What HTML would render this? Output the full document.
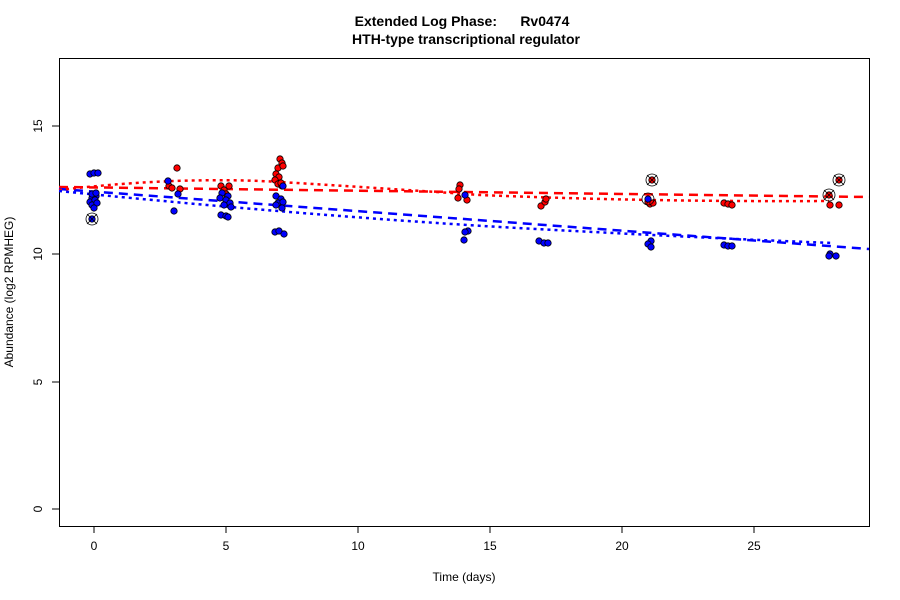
<!DOCTYPE html>
<html><head><meta charset="utf-8"><style>body{margin:0;background:#fff}svg{display:block}</style></head><body>
<svg width="900" height="600" xmlns="http://www.w3.org/2000/svg" font-family="Liberation Sans, sans-serif">
<rect width="900" height="600" fill="#fff"/>
<text x="462" y="26" font-size="14" font-weight="bold" text-anchor="middle" xml:space="preserve">Extended Log Phase:      Rv0474</text>
<text x="466" y="44" font-size="14" font-weight="bold" text-anchor="middle">HTH-type transcriptional regulator</text>
<rect x="59.5" y="58.5" width="810" height="468" fill="none" stroke="#000"/>
<g stroke="#000">
<line x1="94" y1="526" x2="94" y2="533"/><line x1="226" y1="526" x2="226" y2="533"/><line x1="358" y1="526" x2="358" y2="533"/><line x1="490" y1="526" x2="490" y2="533"/><line x1="622" y1="526" x2="622" y2="533"/><line x1="754" y1="526" x2="754" y2="533"/>
<line x1="52" y1="509" x2="59" y2="509"/><line x1="52" y1="382" x2="59" y2="382"/><line x1="52" y1="254" x2="59" y2="254"/><line x1="52" y1="126" x2="59" y2="126"/>
</g>
<g font-size="12" text-anchor="middle">
<text x="94" y="550">0</text><text x="226" y="550">5</text><text x="358" y="550">10</text><text x="490" y="550">15</text><text x="622" y="550">20</text><text x="754" y="550">25</text>
<text transform="translate(42,509) rotate(-90)">0</text><text transform="translate(42,382) rotate(-90)">5</text><text transform="translate(42,254) rotate(-90)">10</text><text transform="translate(42,126) rotate(-90)">15</text>
<text x="464" y="581">Time  (days)</text>
<text transform="translate(13,292) rotate(-90)">Abundance  (log2 RPMHEG)</text>
</g>
<g fill="none" stroke-width="2.5">
<line x1="59" y1="187" x2="869" y2="197" stroke="#f00" stroke-dasharray="9,6"/>
<line x1="59" y1="189" x2="869" y2="249" stroke="#00f" stroke-dasharray="9,6"/>
<path d="M59,190 Q180,176 280,182 Q380,188 480,195 Q650,202 829,201" stroke="#f00" stroke-dasharray="3,4"/>
<path d="M59,191 Q300,215 500,227 Q700,238 833,243" stroke="#00f" stroke-dasharray="3,4"/>
</g>
<g stroke="#000" stroke-width="0.8">
<g fill="#f00">
<circle cx="177" cy="168" r="3.2"/><circle cx="169" cy="186" r="3.2"/><circle cx="172" cy="188" r="3.2"/><circle cx="180" cy="189" r="3.2"/>
<circle cx="221" cy="186" r="3.2"/><circle cx="229" cy="186" r="3.2"/><circle cx="224" cy="190" r="3.2"/><circle cx="226" cy="194" r="3.2"/>
<circle cx="280" cy="159" r="3.2"/><circle cx="282" cy="163" r="3.2"/><circle cx="278" cy="168" r="3.2"/><circle cx="283" cy="166" r="3.2"/><circle cx="276" cy="174" r="3.2"/><circle cx="279" cy="177" r="3.2"/><circle cx="275" cy="180" r="3.2"/><circle cx="278" cy="184" r="3.2"/><circle cx="282" cy="186" r="3.2"/><circle cx="281" cy="183" r="3.2"/>
<circle cx="460" cy="185" r="3.2"/><circle cx="458" cy="198" r="3.2"/><circle cx="467" cy="200" r="3.2"/><circle cx="459" cy="189" r="3.2"/>
<circle cx="541" cy="206" r="3.2"/><circle cx="545" cy="202" r="3.2"/><circle cx="546" cy="199" r="3.2"/>
<circle cx="652" cy="180" r="3.2"/><circle cx="648" cy="202" r="3.2"/><circle cx="650" cy="204" r="3.2"/><circle cx="653" cy="203" r="3.2"/>
<circle cx="724" cy="203" r="3.2"/><circle cx="728" cy="204" r="3.2"/><circle cx="732" cy="205" r="3.2"/>
<circle cx="839" cy="180" r="3.2"/><circle cx="829" cy="195" r="3.2"/><circle cx="830" cy="205" r="3.2"/><circle cx="839" cy="205" r="3.2"/>
</g>
<g fill="#00f">
<circle cx="90" cy="174" r="3.2"/><circle cx="94" cy="173" r="3.2"/><circle cx="98" cy="173" r="3.2"/><circle cx="92" cy="198" r="3.2"/><circle cx="96" cy="196" r="3.2"/><circle cx="90" cy="202" r="3.2"/><circle cx="95" cy="200" r="3.2"/><circle cx="92" cy="205" r="3.2"/><circle cx="97" cy="203" r="3.2"/><circle cx="94" cy="208" r="3.2"/><circle cx="92" cy="194" r="3.2"/><circle cx="96" cy="193" r="3.2"/><circle cx="92" cy="219" r="3.2"/>
<circle cx="168" cy="181" r="3.2"/><circle cx="178" cy="194" r="3.2"/><circle cx="174" cy="211" r="3.2"/>
<circle cx="222" cy="193" r="3.2"/><circle cx="228" cy="196" r="3.2"/><circle cx="220" cy="198" r="3.2"/><circle cx="226" cy="200" r="3.2"/><circle cx="230" cy="203" r="3.2"/><circle cx="224" cy="205" r="3.2"/><circle cx="231" cy="207" r="3.2"/><circle cx="221" cy="215" r="3.2"/><circle cx="226" cy="216" r="3.2"/><circle cx="228" cy="217" r="3.2"/>
<circle cx="283" cy="186" r="3.2"/><circle cx="276" cy="196" r="3.2"/><circle cx="281" cy="199" r="3.2"/><circle cx="278" cy="203" r="3.2"/><circle cx="283" cy="202" r="3.2"/><circle cx="276" cy="205" r="3.2"/><circle cx="282" cy="208" r="3.2"/><circle cx="275" cy="232" r="3.2"/><circle cx="279" cy="231" r="3.2"/><circle cx="284" cy="234" r="3.2"/>
<circle cx="465" cy="195" r="3.2"/><circle cx="468" cy="231" r="3.2"/><circle cx="465" cy="232" r="3.2"/><circle cx="464" cy="240" r="3.2"/>
<circle cx="539" cy="241" r="3.2"/><circle cx="544" cy="243" r="3.2"/><circle cx="548" cy="243" r="3.2"/>
<circle cx="648" cy="199" r="3.2"/><circle cx="651" cy="241" r="3.2"/><circle cx="648" cy="244" r="3.2"/><circle cx="651" cy="247" r="3.2"/>
<circle cx="724" cy="245" r="3.2"/><circle cx="728" cy="246" r="3.2"/><circle cx="732" cy="246" r="3.2"/>
<circle cx="830" cy="254" r="3.2"/><circle cx="829" cy="256" r="3.2"/><circle cx="836" cy="256" r="3.2"/>
</g>
</g>
<g fill="none" stroke="#000" stroke-width="0.8">
<circle cx="92" cy="219" r="6"/><path d="M87,214l10,10M97,214l-10,10"/>
<circle cx="652" cy="180" r="6"/><path d="M647,175l10,10M657,175l-10,10"/>
<circle cx="839" cy="180" r="6"/><path d="M834,175l10,10M844,175l-10,10"/>
<circle cx="829" cy="195" r="6"/><path d="M824,190l10,10M834,190l-10,10"/>
<circle cx="648" cy="199" r="6"/>
</g>
</svg>
</body></html>
